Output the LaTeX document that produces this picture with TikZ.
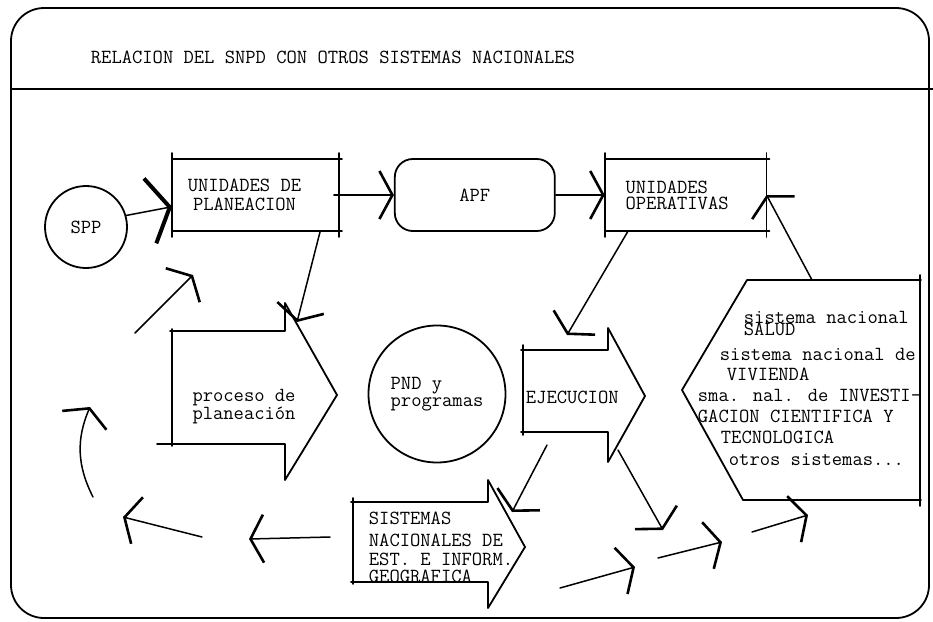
\documentclass[tikz,border=0pt]{standalone}
\usetikzlibrary{arrows.meta, positioning}

\begin{document}
\begin{tikzpicture}[
    x=1pt, y=-1pt,
    line width=1.8pt, line cap=round, line join=round,
    every node/.style={font=\ttfamily\fontsize{20}{17}\selectfont, inner sep=0pt},
    box/.style={rectangle, minimum width=165pt, minimum height=70pt, align=center},
    roundbox/.style={draw, rectangle, rounded corners=18pt, minimum width=160pt, minimum height=72pt},
    bubble/.style={draw, circle, align=left},
    arrow/.style={-{Straight Barb[length=13pt, width=48pt, line width=2.6pt]}, line width=1.5pt},
    bigarrow/.style={-{Straight Barb[length=20pt, width=66pt, line width=4pt]}, line width=1.5pt}
]
\useasboundingbox (0,0) rectangle (933,621);

% Marco y titulo
\draw[rounded corners=33pt] (11,8) rectangle (929,618);
\draw (11,89) -- (933,89);
\node[anchor=base west] (title) at (90,63) {RELACION DEL SNPD CON OTROS SISTEMAS NACIONALES};

% Fila de arriba
\node[box] (unidplan) at (255.5,195) {UNIDADES DE\hspace*{22pt}\\[2pt]PLANEACION\hspace*{22pt}};
\node[roundbox, right=55pt of unidplan] (apf) {APF};
\node[box, minimum width=160pt, text width=120pt, align=left, right=49pt of apf] (unidoper) {UNIDADES\\[-1pt]OPERATIVAS};
\foreach \b in {unidplan, unidoper} {
    \draw[shorten <=-6pt, shorten >=-6pt] (\b.north west) -- (\b.south west);
    \draw[shorten <=-6pt, shorten >=-6pt] (\b.north east) -- (\b.south east);
    \draw (\b.north west) -- ([xshift=3pt]\b.north east);
    \draw (\b.south west) -- ([xshift=3pt]\b.south east);
}

% Circulos
\node[bubble, minimum size=82pt] (spp) at (86,227) {SPP};
\node[bubble, minimum size=137pt] (pnd) at (437,394) {PND y\\programas};

% Flechas grandes
\draw (157,444) -- (285,444) -- (285,480) -- (337,395) -- (285,303) -- (285,331) -- (170,331);
\draw (172,329) -- (172,446);
\node[align=left, font=\ttfamily\fontsize{20}{15}\selectfont] (proceso) at (244,407) {proceso de\\planeación};

\draw (523,345) -- (523,435);
\draw (521,350) -- (608,350) -- (608,328) -- (645,396) -- (608,462) -- (608,432) -- (521,432);
\node[anchor=base west] (ejecucion) at (525,403) {EJECUCION};

\draw (353,498) -- (353,584);
\draw (351,502) -- (488,502) -- (488,480) -- (525,547) -- (488,608) -- (488,582) -- (351,582);
\foreach \x/\y/\txt [count=\i] in {368/524/SISTEMAS, 368/546/NACIONALES DE, 368/565/EST. E INFORM., 368/582/GEOGRAFICA}
    \node[anchor=base west] (sinegi\i) at (\x,\y) {\txt};

% Otros sistemas nacionales
\draw (920,275) -- (920,506);
\draw (921,280) -- (747,280) -- (682,390) -- (743,500) -- (921,500);
\foreach \x/\y/\txt [count=\i] in {743/323/sistema nacional, 743/335/SALUD, 719/360/sistema nacional de,
    726/380/VIVIENDA, 697/401/sma. nal. de INVESTI-, 697/422/GACION CIENTIFICA Y, 720/443/TECNOLOGICA,
    728/465/otros sistemas.{}.{}.}
    \node[anchor=base west] (sist\i) at (\x,\y) {\txt};

% Puntos libres de las flechas
\coordinate (procin) at (297,322);
\coordinate (ejin) at (567,335);
\coordinate (sistop) at (812,280);
\coordinate (l1s) at (135,333);  \coordinate (l1e) at (193,275);
\coordinate (l2s) at (93,497);   \coordinate (l2e) at (90,407);
\coordinate (l3s) at (202,537);  \coordinate (l3e) at (123,517);
\coordinate (l4s) at (330,537);  \coordinate (l4e) at (249,539);
\coordinate (r1s) at (547,445);  \coordinate (r1e) at (512,512);
\coordinate (r2s) at (618,450);  \coordinate (r2e) at (663,530);
\coordinate (r3s) at (560,588);  \coordinate (r3e) at (635,567);
\coordinate (r4s) at (658,558);  \coordinate (r4e) at (722,542);
\coordinate (r5s) at (752,532);  \coordinate (r5e) at (808,515);

% Conexiones
\draw[bigarrow] (spp.16) -- (unidplan.188);
\draw[arrow] ([xshift=-5pt]unidplan.east) -- (apf.west);
\draw[arrow] (apf.east) -- (unidoper.west);
\draw[arrow] (unidoper.212) -- (ejin);
\draw[arrow] (unidplan.331) -- (procin);
\draw[arrow] (sistop) -- (unidoper.east);
\draw[arrow] (l2s) to[bend left=25] (l2e);
\foreach \a/\b in {l1s/l1e, l3s/l3e, l4s/l4e, r1s/r1e, r2s/r2e, r3s/r3e, r4s/r4e, r5s/r5e}
    \draw[arrow] (\a) -- (\b);

\end{tikzpicture}
\end{document}
